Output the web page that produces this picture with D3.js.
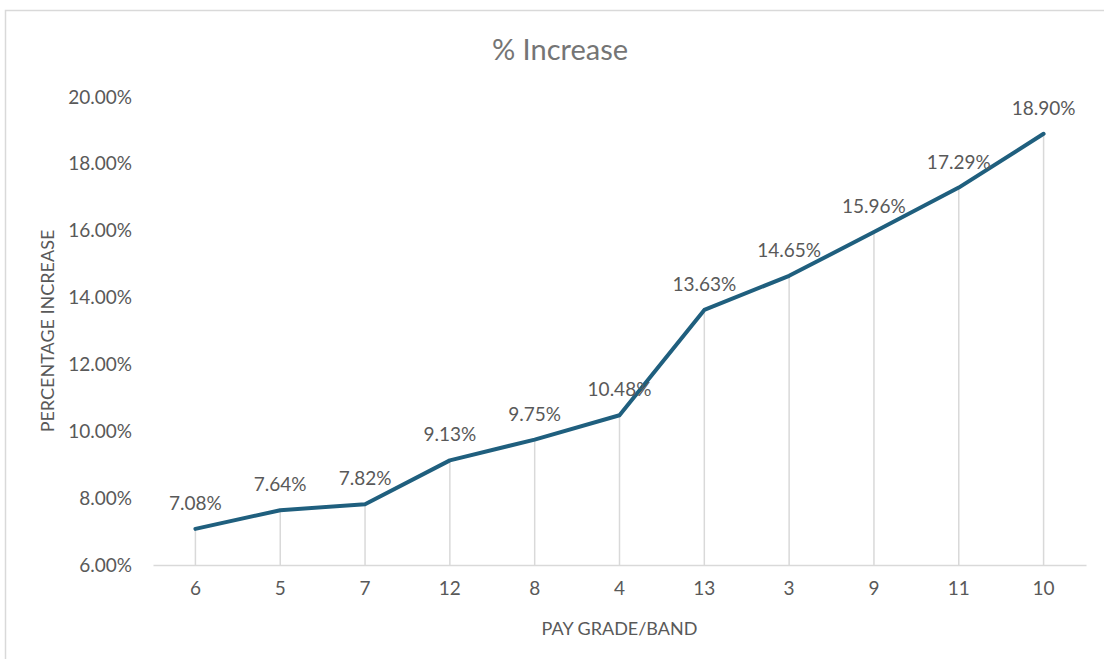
<!DOCTYPE html>
<html lang="en">
<head>
<meta charset="utf-8">
<title>% Increase</title>
<script src="https://cdn.jsdelivr.net/npm/d3@7"></script>
<style>
  body { margin: 0; background: #fff; }
  svg text { font-family: Lato, "Open Sans", sans-serif; }
</style>
</head>
<body>
<div id="chart"></div>
<script>
// data
var grades = ["6", "5", "7", "12", "8", "4", "13", "3", "9", "11", "10"];
var increase = [7.08, 7.64, 7.82, 9.13, 9.75, 10.48, 13.63, 14.65, 15.96, 17.29, 18.90];
var yTicks = [6, 8, 10, 12, 14, 16, 18, 20];

var W = 1104, H = 659;
var margin = {top: 97, right: 18, bottom: 94, left: 153};
var width = W - margin.left - margin.right,
    height = H - margin.top - margin.bottom;

var svg = d3.select("#chart").append("svg")
    .attr("width", W)
    .attr("height", H);

// chart frame (runs off the page on right/bottom)
svg.append("rect")
    .attr("x", 5.5).attr("y", 10.5)
    .attr("width", W + 20).attr("height", H + 20)
    .attr("fill", "none")
    .attr("stroke", "#d9d9d9")
    .attr("stroke-width", 1.5);

var g = svg.append("g")
    .attr("transform", "translate(" + margin.left + "," + margin.top + ")");

var x = d3.scaleBand().domain(grades).range([0, width]);
var y = d3.scaleLinear().domain([6, 20]).range([height, 0]);

var pts = grades.map(function(d, i) { return {g: d, v: increase[i]}; });

// drop lines
g.selectAll(".drop").data(pts).enter().append("line")
    .attr("class", "drop")
    .attr("x1", function(d) { return x(d.g) + x.bandwidth() / 2; })
    .attr("x2", function(d) { return x(d.g) + x.bandwidth() / 2; })
    .attr("y1", function(d) { return y(d.v); })
    .attr("y2", height)
    .attr("stroke", "#d9d9d9")
    .attr("stroke-width", 1.5);

// x axis
var xAxis = g.append("g")
    .attr("transform", "translate(0," + height + ")")
    .call(d3.axisBottom(x).tickSize(0).tickPadding(17));
xAxis.select(".domain").attr("stroke", "#d9d9d9").attr("stroke-width", 1.5);
xAxis.selectAll("text").attr("fill", "#595959").style("font-size", "19px");

// y axis
var yAxis = g.append("g")
    .call(d3.axisLeft(y).tickValues(yTicks).tickSize(0).tickPadding(21)
        .tickFormat(function(d) { return d.toFixed(2) + "%"; }));
yAxis.select(".domain").remove();
yAxis.selectAll("text").attr("fill", "#595959").style("font-size", "19px");

// line
var line = d3.line()
    .x(function(d) { return x(d.g) + x.bandwidth() / 2; })
    .y(function(d) { return y(d.v); });

g.append("path")
    .datum(pts)
    .attr("d", line)
    .attr("fill", "none")
    .attr("stroke", "#1f5f7e")
    .attr("stroke-width", 4)
    .attr("stroke-linejoin", "round")
    .attr("stroke-linecap", "round");

// data labels
g.selectAll(".lbl").data(pts).enter().append("text")
    .attr("class", "lbl")
    .attr("x", function(d) { return x(d.g) + x.bandwidth() / 2; })
    .attr("y", function(d) { return y(d.v) - 19; })
    .attr("text-anchor", "middle")
    .attr("fill", "#595959")
    .style("font-size", "19px")
    .text(function(d) { return d.v.toFixed(2) + "%"; });

// title
svg.append("text")
    .attr("x", 560).attr("y", 60)
    .attr("text-anchor", "middle")
    .attr("fill", "#757575")
    .style("font-size", "29px")
    .text("% Increase");

// axis titles
svg.append("text")
    .attr("transform", "translate(54," + (margin.top + height / 2) + ") rotate(-90)")
    .attr("text-anchor", "middle")
    .attr("fill", "#595959")
    .style("font-size", "18px")
    .text("PERCENTAGE INCREASE");

svg.append("text")
    .attr("x", margin.left + width / 2).attr("y", 635)
    .attr("text-anchor", "middle")
    .attr("fill", "#595959")
    .style("font-size", "18px")
    .text("PAY GRADE/BAND");
</script>
</body>
</html>
